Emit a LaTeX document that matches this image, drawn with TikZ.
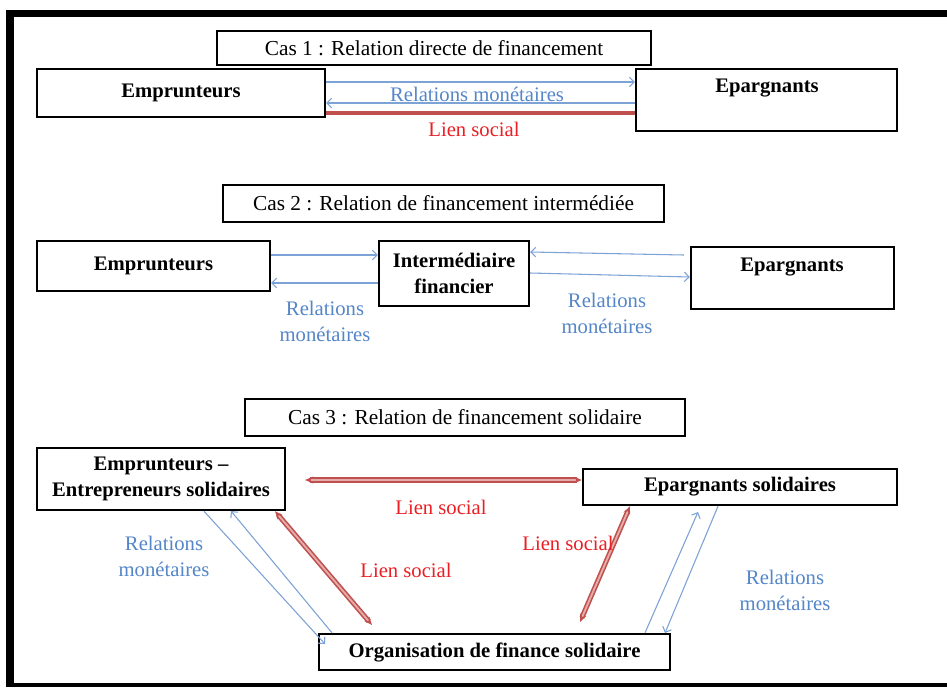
\documentclass[tikz,border=0pt]{standalone}
\usepackage{fontspec}
\setmainfont{Liberation Serif}
\usetikzlibrary{arrows.meta,calc}
\definecolor{blueT}{RGB}{84,134,200}
\definecolor{blueL}{RGB}{125,162,214}
\definecolor{redT}{RGB}{235,30,35}
\definecolor{redL}{RGB}{192,80,77}
\definecolor{redLi}{RGB}{228,172,170}
\newdimen\pxu \pxu=0.75pt
\begin{document}
\begin{tikzpicture}[x=0.75pt,y=-0.75pt,
  every node/.style={font=\fontsize{15.5}{19.5}\selectfont},
  box/.style={draw=black, line width=1.8pt, inner sep=0pt, fill=white, align=center},
  tbox/.style={box, font=\fontsize{16}{19.5}\selectfont},
  bbox/.style={box, font=\fontsize{15.5}{19.5}\selectfont\bfseries},
  wh/.style 2 args={minimum width=#1\pxu, minimum height=#2\pxu},
  lab/.style={inner sep=1pt, align=center},
  bluelab/.style={lab, text=blueT},
  redlab/.style={lab, text=redT},
  bluearr/.style={draw=blueL, line width=0.8pt, -{Straight Barb[length=3.5pt,width=7pt]}},
  redline/.style={draw=redL, line width=3pt},
  redarr/.style={draw=redL, line width=1.2pt, double=redLi, double distance=1.4pt,
     {Stealth[length=6pt,width=5pt]}-{Stealth[length=6pt,width=5pt]}}
]
\useasboundingbox (0,0) rectangle (947,687);
\fill[white] (0,0) rectangle (947,687);
% frame
\fill[black] (6,10) rectangle (947,17);
\fill[black] (6,10) rectangle (14,687);
\fill[black] (6,683) rectangle (947,687);

% ---------- Cas 1
\node[tbox, wh={434}{34}] (t1) at (434,48) {Cas 1 : Relation directe de financement};
\node[bbox, wh={288}{48}] (e1) at (181,93) {Emprunteurs};
\node[box, wh={261}{62}] (p1) at (766.5,100) {};
\node[lab, font=\fontsize{15.5}{19.5}\selectfont\bfseries] (p1t) at (767,88) {Epargnants};
\draw[bluearr] (e1.east |- 0,82) -- (p1.west |- 0,82);
\draw[bluearr] (p1.west |- 0,103) -- (e1.east |- 0,103);
\draw[redline] (e1.east |- 0,113) -- (p1.west |- 0,113);
\node[bluelab] (rm1) at (477,94) {Relations monétaires};
\node[redlab] (ls1) at (474,129) {Lien social};

% ---------- Cas 2
\node[tbox, wh={441}{37}] (t2) at (443.5,203.5) {Cas 2 : Relation de financement intermédiée};
\node[bbox, wh={233}{50}] (e2) at (153.5,266) {Emprunteurs};
\node[bbox, wh={150}{65}] (im) at (454,273.5) {Intermédiaire\\financier};
\node[box, wh={203}{62}] (p2) at (792.5,278) {};
\node[lab, font=\fontsize{15.5}{19.5}\selectfont\bfseries] (p2t) at (792,267) {Epargnants};
\draw[bluearr] (e2.east |- 0,255) -- (im.west |- 0,255);
\draw[bluearr] (im.west |- 0,283) -- (e2.east |- 0,283);
\draw[bluearr] ([xshift=-4.5pt]p2.west |- 0,255) -- (im.east |- 0,252);
\draw[bluearr] (im.east |- 0,273) -- (p2.west |- 0,277);
\node[bluelab] (rm2a) at (325,321) {Relations\\monétaires};
\node[bluelab] (rm2b) at (607,313) {Relations\\monétaires};

% ---------- Cas 3
\node[tbox, wh={440}{37}] (t3) at (465,417.5) {Cas 3 : Relation de financement solidaire};
\node[bbox, wh={248}{62}] (es) at (161,479) {Emprunteurs --\\Entrepreneurs solidaires};
\node[bbox, wh={314}{36}] (ps) at (740,487) {Epargnants solidaires};
\node[bbox, wh={351}{36}] (or) at (494.5,652) {Organisation de finance solidaire};

\coordinate (hl) at (305,480);
\coordinate (dl) at (372,625);
\coordinate (dr) at (580,622);
\draw[redarr] (hl) -- (ps.west |- 0,480);
\draw[redarr] (es.south -| 275,0) -- (dl);
\draw[redarr] (ps.south -| 630,0) -- (dr);

\coordinate (bl1) at (325,644);
\coordinate (bl2) at (231,511);
\coordinate (br1) at (698,512);
\coordinate (br2) at (665,633);
\draw[bluearr] (es.south -| 204,0) -- (bl1);
\draw[bluearr] (or.north -| 332,0) -- (bl2);
\draw[bluearr] (or.north -| 645,0) -- (br1);
\draw[bluearr] (ps.south -| 718,0) -- (br2);

\node[redlab] (ls3a) at (441,507) {Lien social};
\node[redlab] (ls3b) at (406,570) {Lien social};
\node[redlab] (ls3c) at (568,543) {Lien social};
\node[bluelab] (rm3a) at (164,556) {Relations\\monétaires};
\node[bluelab] (rm3b) at (785,590) {Relations\\monétaires};
\end{tikzpicture}
\end{document}
